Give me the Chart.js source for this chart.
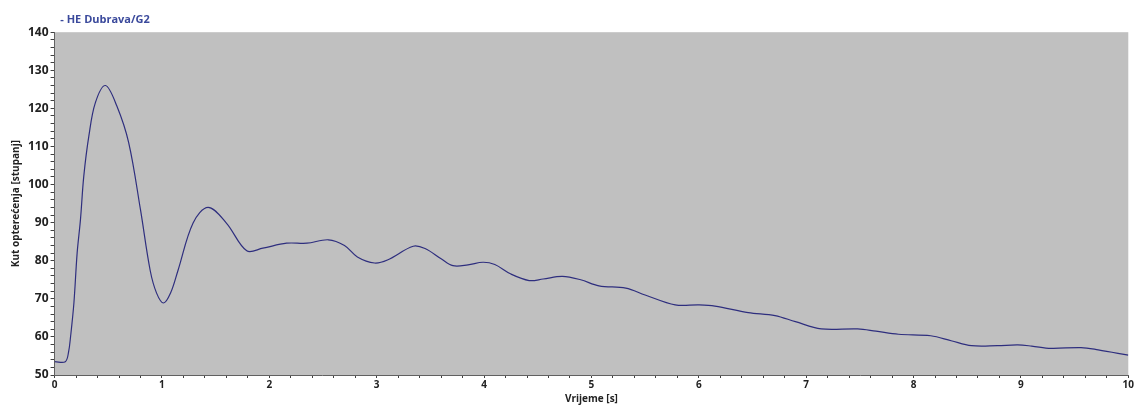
<!DOCTYPE html>
<html>
<head>
<meta charset="utf-8">
<script src="https://cdn.jsdelivr.net/npm/chart.js@4/dist/chart.umd.min.js"></script>
<style>
  html, body { margin: 0; padding: 0; background: #fff; }
  #wrap { width: 1135px; height: 405px; }
</style>
</head>
<body>
<div id="wrap"><canvas id="kut"></canvas></div>
<script>
// vrijeme [s] i kut opterećenja [stupanj] očitani sa slike
const vrijeme = [0, 0.1, 0.13, 0.149, 0.18, 0.21, 0.241, 0.272, 0.319, 0.38, 0.474, 0.58, 0.69, 0.8, 0.89, 0.95, 1.015, 1.08, 1.15, 1.29, 1.43, 1.6, 1.79, 1.94, 2.16, 2.35, 2.55, 2.7, 2.82, 2.98, 3.1, 3.34, 3.45, 3.6, 3.71, 3.85, 3.99, 4.1, 4.25, 4.42, 4.55, 4.73, 4.9, 5.07, 5.32, 5.5, 5.78, 6.0, 6.15, 6.46, 6.71, 6.9, 7.14, 7.48, 7.65, 7.86, 8.16, 8.35, 8.54, 8.78, 8.97, 9.1, 9.28, 9.56, 9.72, 10];
const kut = [53.5, 53.5, 56, 60.1, 68.9, 82, 90.8, 102.2, 112.7, 121.5, 126, 120.6, 111, 93.4, 77.5, 71.5, 68.9, 71.5, 77.5, 89.9, 94, 89.9, 82.6, 83.3, 84.6, 84.6, 85.5, 84, 81, 79.4, 80.2, 83.8, 83.2, 80.5, 78.7, 78.9, 79.6, 79, 76.5, 74.8, 75.2, 75.9, 75, 73.4, 72.8, 71, 68.4, 68.4, 68.1, 66.4, 65.6, 64, 62.1, 62.1, 61.5, 60.7, 60.3, 59, 57.7, 57.7, 57.9, 57.6, 57, 57.2, 56.6, 55.2];

const xMajor = [0, 1, 2, 3, 4, 5, 6, 7, 8, 9, 10];
const yMajor = [50, 60, 70, 80, 90, 100, 110, 120, 130, 140];

const font = 'Open Sans, DejaVu Sans, sans-serif';

// sivo polje grafa
const sivaPozadina = {
  id: 'sivaPozadina',
  beforeDraw(chart) {
    const a = chart.chartArea;
    const ctx = chart.ctx;
    ctx.save();
    ctx.fillStyle = '#c0c0c0';
    ctx.fillRect(a.left, a.top, a.right - a.left, a.bottom - a.top);
    ctx.restore();
  }
};

new Chart(document.getElementById('kut'), {
  type: 'line',
  data: {
    datasets: [{
      label: 'HE Dubrava/G2',
      data: vrijeme.map((t, i) => ({ x: t, y: kut[i] })),
      borderColor: '#2e2e7e',
      borderWidth: 1.2,
      pointRadius: 0,
      tension: 0.35,
      fill: false
    }]
  },
  options: {
    responsive: true,
    maintainAspectRatio: false,
    animation: false,
    layout: { padding: { left: 10, right: 3, top: 13, bottom: 0 } },
    plugins: {
      legend: { display: false },
      tooltip: { enabled: false },
      title: {
        display: true,
        text: '  - HE Dubrava/G2',
        align: 'start',
        fullSize: false,
        color: '#3b4a9c',
        font: { family: font, size: 11, weight: 'bold' },
        padding: { top: 0, bottom: 6 }
      }
    },
    scales: {
      x: {
        type: 'linear',
        min: 0,
        max: 10,
        border: { display: true, color: '#606060', width: 1 },
        grid: { drawOnChartArea: false, drawTicks: true, tickLength: 3, color: '#404040' },
        ticks: {
          stepSize: 0.2,
          autoSkip: false,
          maxRotation: 0,
          padding: 1,
          color: '#222',
          font: { family: font, size: 10, weight: 'bold' },
          callback: v => xMajor.includes(Math.round(v * 10) / 10) ? String(Math.round(v)) : ''
        },
        title: {
          display: true,
          text: 'Vrijeme [s]',
          color: '#222',
          font: { family: font, size: 10, weight: 'bold' },
          padding: { top: 1, bottom: 0 }
        }
      },
      y: {
        min: 50,
        max: 140,
        border: { display: true, color: '#606060', width: 1 },
        grid: { drawOnChartArea: false, drawTicks: true, tickLength: 4, color: '#404040' },
        ticks: {
          stepSize: 2,
          autoSkip: false,
          padding: 2,
          color: '#222',
          font: { family: font, size: 12, weight: 'bold' },
          callback: v => yMajor.includes(v) ? String(v) : ''
        },
        title: {
          display: true,
          text: 'Kut opterećenja [stupanj]',
          color: '#222',
          font: { family: font, size: 10, weight: 'bold' },
          padding: { top: 0, bottom: 4 }
        }
      }
    }
  },
  plugins: [sivaPozadina]
});
</script>
</body>
</html>
